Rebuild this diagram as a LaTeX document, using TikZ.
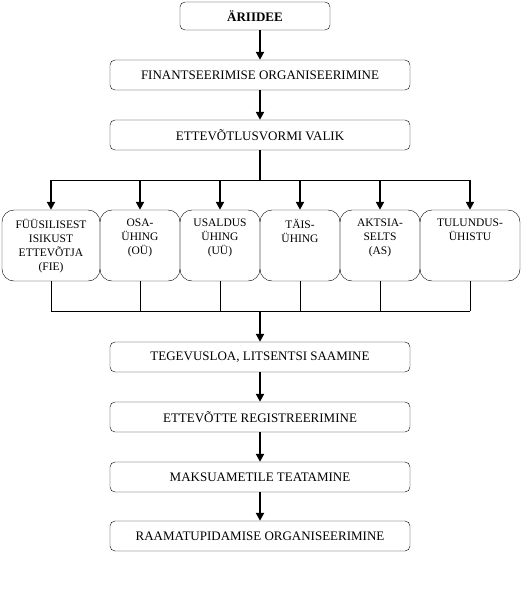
\documentclass[tikz,border=0pt]{standalone}
\usepackage{fontspec}
\setmainfont{Liberation Serif}
\usetikzlibrary{arrows.meta,positioning,calc}

\newcommand{\formtext}[1]{\parbox[c][71pt][t]{78pt}{\centering\vspace{9pt}#1}}

\begin{document}
\begin{tikzpicture}[x=1pt,y=1pt,
    stagebox/.style={draw,rounded corners=5pt,font=\fontsize{13}{15}\selectfont,
        minimum width=300pt,minimum height=30pt,inner sep=0pt},
    formbox/.style={draw,rounded corners=12pt,font=\fontsize{11.5}{14}\selectfont,
        minimum height=71pt,inner sep=0pt},
    flow/.style={-{Triangle[length=8pt,width=8pt]},line width=2pt},
    link/.style={line width=0.8pt}]
\useasboundingbox (0,0) rectangle (522,-600);
% main chain, top part
\node[stagebox,minimum width=150pt,minimum height=28pt] (idea) at (255,-16) {\textbf{ÄRIIDEE}};
\node[stagebox] (finance) at (260,-75) {FINANTSEERIMISE ORGANISEERIMINE};
\node[stagebox] (form) at (260,-135) {ETTEVÕTLUSVORMI VALIK};
% business forms
\node[formbox,minimum width=98pt] (fie) at (51,-245.5) {\formtext{FÜÜSILISEST\\ISIKUST\\ETTEVÕTJA\\(FIE)}};
\node[formbox,minimum width=80pt] (ou) at (140,-245.5) {\formtext{OSA-\\ÜHING\\(OÜ)}};
\node[formbox,minimum width=80pt] (uu) at (220,-245.5) {\formtext{USALDUS\\ÜHING\\(UÜ)}};
\node[formbox,minimum width=80pt] (ty) at (300,-245.5) {\formtext{TÄIS-\\ÜHING}};
\node[formbox,minimum width=80pt] (as) at (380,-245.5) {\formtext{AKTSIA-\\SELTS\\(AS)}};
\node[formbox,minimum width=100pt] (tu) at (470,-245.5) {\formtext{TULUNDUS-\\ÜHISTU}};
% main chain, bottom part
\node[stagebox] (license) at (260,-357) {TEGEVUSLOA, LITSENTSI SAAMINE};
\node[stagebox] (register) at (260,-417) {ETTEVÕTTE REGISTREERIMINE};
\node[stagebox] (tax) at (260,-477) {MAKSUAMETILE TEATAMINE};
\node[stagebox] (accounting) at (260,-536) {RAAMATUPIDAMISE ORGANISEERIMINE};

\coordinate (split) at (260,-180);
\coordinate (join) at (260,-311);

\draw[flow] (finance.north |- idea.south) -- (finance.north);
\draw[flow] (finance) -- (form);
\draw[line width=2pt] (form.south) -- (split);
\draw[link] (fie.north |- split) -- (tu.north |- split);
\foreach \f in {fie,ou,uu,ty,as,tu}{
  \draw[flow] (\f.north |- split) -- (\f.north);
  \draw[link] (\f.south) -- (\f.south |- join);
}
\draw[link] (fie.south |- join) -- (tu.south |- join);
\draw[flow] (join) -- (license);
\draw[flow] (license) -- (register);
\draw[flow] (register) -- (tax);
\draw[flow] (tax) -- (accounting);
\end{tikzpicture}
\end{document}
